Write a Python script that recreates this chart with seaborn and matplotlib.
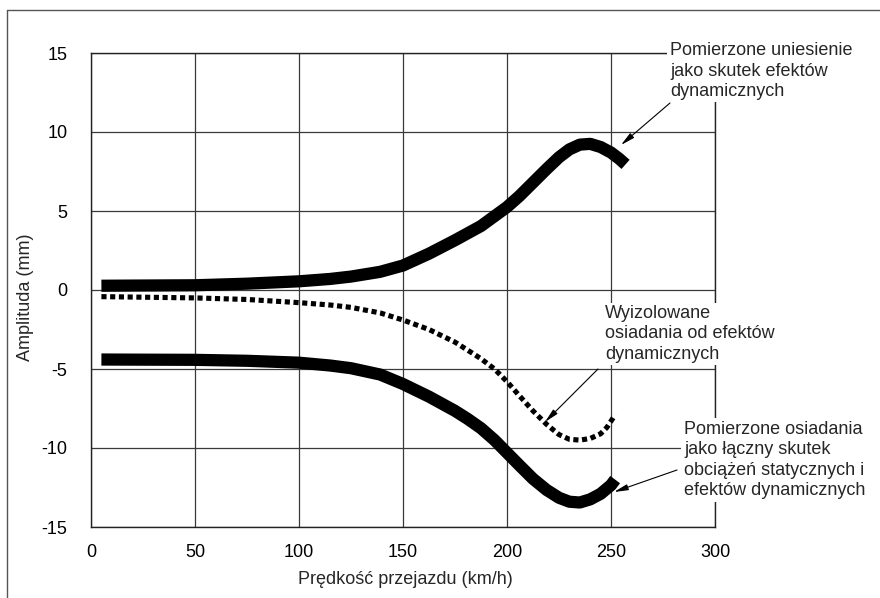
import matplotlib
matplotlib.use("Agg")
import matplotlib.pyplot as plt
from matplotlib.lines import Line2D
import seaborn as sns
import pandas as pd

# ---- data ----
speed_lift = [5, 50, 75, 100, 115, 125, 139, 150, 162.5, 175, 187.5, 200, 206, 212.5, 219, 225,
              230, 235, 240, 245, 250, 254, 257]
lift = [0.27, 0.3, 0.4, 0.55, 0.7, 0.85, 1.15, 1.55, 2.3, 3.15, 4.05, 5.25, 5.95, 6.8, 7.65, 8.4,
        8.9, 9.2, 9.25, 9.05, 8.7, 8.3, 7.95]

speed_dyn = [5, 50, 75, 100, 115, 125, 139, 150, 162.5, 175, 181, 187.5, 194, 200, 206, 212.5,
             219, 225, 230, 235, 240, 245, 248, 252]
dyn = [-0.42, -0.5, -0.6, -0.8, -0.95, -1.1, -1.45, -1.9, -2.5, -3.3, -3.8, -4.35, -5.0, -5.8,
       -6.7, -7.65, -8.5, -9.15, -9.45, -9.5, -9.4, -9.1, -8.7, -7.9]

speed_set = [5, 50, 75, 100, 115, 125, 139, 150, 162.5, 175, 181, 187.5, 194, 200, 206, 212.5,
             219, 225, 230, 235, 240, 245, 250, 252]
settle = [-4.4, -4.42, -4.48, -4.6, -4.78, -4.95, -5.35, -5.95, -6.75, -7.65, -8.15, -8.75, -9.5,
          -10.3, -11.1, -11.95, -12.65, -13.15, -13.4, -13.45, -13.25, -12.9, -12.35, -12.0]

x_ticks = [0, 50, 100, 150, 200, 250, 300]
y_ticks = [-15, -10, -5, 0, 5, 10, 15]

label_lift = "Pomierzone uniesienie\njako skutek efektów\ndynamicznych"
label_dyn = "Wyizolowane\nosiadania od efektów\ndynamicznych"
label_set = "Pomierzone osiadania\njako łączny skutek\nobciążeń statycznych i\nefektów dynamicznych"
xlabel = "Prędkość przejazdu (km/h)"
ylabel = "Amplituda (mm)"

sns.set_theme(style="white")
plt.rcParams["font.family"] = ["Liberation Sans", "DejaVu Sans"]
plt.rcParams["axes.unicode_minus"] = False
FS = 13

fig = plt.figure(figsize=(8.8, 5.98), dpi=100)
ax = fig.add_axes([91 / 880, 1 - 527 / 598, (715 - 91) / 880, (527 - 53) / 598])

df_lift = pd.DataFrame({"x": speed_lift, "y": lift})
df_dyn = pd.DataFrame({"x": speed_dyn, "y": dyn})
df_set = pd.DataFrame({"x": speed_set, "y": settle})

sns.lineplot(data=df_lift, x="x", y="y", ax=ax, color="black", linewidth=8.8,
             sort=False, estimator=None, solid_capstyle="butt", solid_joinstyle="round", zorder=3)
sns.lineplot(data=df_set, x="x", y="y", ax=ax, color="black", linewidth=8.8,
             sort=False, estimator=None, solid_capstyle="butt", solid_joinstyle="round", zorder=3)
sns.lineplot(data=df_dyn, x="x", y="y", ax=ax, color="black", linewidth=3.7,
             sort=False, estimator=None, zorder=3)
ax.lines[-1].set_dashes((1.0, 0.7))
ax.lines[-1].set_dash_capstyle("butt")

ax.set_xlim(0, 300)
ax.set_ylim(-15, 15)
ax.set_xticks(x_ticks)
ax.set_yticks(y_ticks)
ax.grid(True, color="#3a3a3a", linewidth=0.9)
for s in ax.spines.values():
    s.set_visible(True)
    s.set_color("#222222")
    s.set_linewidth(1.0)
ax.tick_params(axis="both", length=0, labelsize=FS, colors="black")
ax.tick_params(axis="y", pad=17)
ax.tick_params(axis="x", pad=12)

ax.set_xlabel(xlabel, fontsize=FS)
ax.set_ylabel(ylabel, fontsize=FS)
ax.xaxis.set_label_coords((405 - 91) / 624, (527 - 580) / 474)
ax.xaxis.label.set_va("center")
ax.yaxis.set_label_coords((25 - 91) / 624, (527 - 297) / 474)
ax.yaxis.label.set_va("center")

def px2d(px, py):
    return ((px - 91) / 624 * 300, (527 - py) / 474 * 30 - 15)

bbox = dict(facecolor="white", edgecolor="none", pad=2)
arrow = dict(arrowstyle="-|>,head_length=0.7,head_width=0.15", color="black", lw=0.8,
             shrinkA=0, shrinkB=0)

ax.annotate("", xy=px2d(621, 145), xytext=px2d(670, 103), arrowprops=arrow, zorder=6)
ax.annotate("", xy=px2d(545, 422), xytext=px2d(598, 369), arrowprops=arrow, zorder=6)
ax.annotate("", xy=px2d(614, 492), xytext=px2d(677, 470), arrowprops=arrow, zorder=6)

ax.text(*px2d(670, 71), label_lift, fontsize=FS, ha="left", va="center",
        linespacing=1.25, bbox=bbox, clip_on=False, zorder=5)
ax.text(*px2d(605, 334), label_dyn, fontsize=FS, ha="left", va="center",
        linespacing=1.25, bbox=bbox, clip_on=False, zorder=5)
ax.text(*px2d(684, 460), label_set, fontsize=FS, ha="left", va="center",
        linespacing=1.25, bbox=bbox, clip_on=False, zorder=5)

# outer frame (top and left)
fig.add_artist(Line2D([7 / 880, 1], [1 - 10 / 598, 1 - 10 / 598], transform=fig.transFigure,
                      color="#555555", linewidth=1.0))
fig.add_artist(Line2D([7 / 880, 7 / 880], [0, 1 - 10 / 598], transform=fig.transFigure,
                      color="#555555", linewidth=1.0))

fig.savefig("out.png", dpi=100)
